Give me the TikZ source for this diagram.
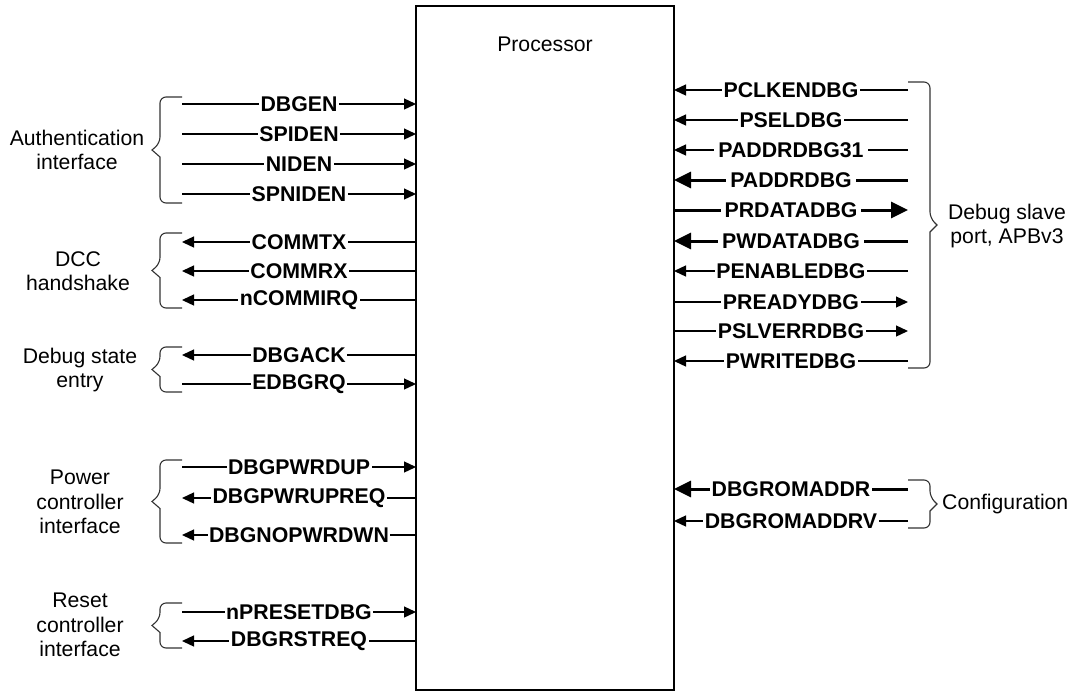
\documentclass[tikz,border=0pt]{standalone}
\usepackage{fontspec}
\setmainfont{Liberation Sans}
\usetikzlibrary{arrows.meta}
\newcommand\sigfont{\fontsize{21.3}{24.5}\selectfont\bfseries}
\newcommand\grpfont{\fontsize{21.2}{24.5}\selectfont}
\tikzset{
  sig/.style={line width=1.3pt},
  tip/.style={-{Triangle[length=12pt,width=11pt]}},
  thicksig/.style={line width=3pt,-{Triangle[length=17pt,width=16pt]}},
  lab/.style={fill=white,inner xsep=1.5pt,inner ysep=0pt,font=\sigfont},
  widelab/.style={inner xsep=4pt},
  grp/.style={align=center,font=\grpfont,inner sep=0pt},
  brk/.style={line width=1.1pt,draw=black!80,line join=miter}
}
% left side signals: outer x=182, box x=416
\newcommand\Lin[4][]{%
  \coordinate (#2o) at (182,#3); \coordinate (#2p) at (416,#3);
  \draw[sig,tip,#1] (#2o) -- node[lab] (#2t) {#4} (#2p);}
\newcommand\Lout[4][]{%
  \coordinate (#2o) at (182,#3); \coordinate (#2p) at (416,#3);
  \draw[sig,tip,#1] (#2p) -- node[lab] (#2t) {#4} (#2o);}
% right side signals: box x=674, outer x=908
\newcommand\Rin[5][]{%
  \coordinate (#2o) at (908,#3); \coordinate (#2p) at (674,#3);
  \draw[sig,tip,#1] (#2o) -- node[lab,#5] (#2t) {#4} (#2p);}
\newcommand\Rout[5][]{%
  \coordinate (#2o) at (908,#3); \coordinate (#2p) at (674,#3);
  \draw[sig,tip,#1] (#2p) -- node[lab,#5] (#2t) {#4} (#2o);}
% braces
\newcommand\leftbrk[3]{% name, top, bottom
  \draw[brk] (182,#2) [rounded corners=6pt] -- (160,#2) -- (160,{(#2+#3)/2-7})
    [sharp corners] -- (152,{(#2+#3)/2}) coordinate (#1) -- (160,{(#2+#3)/2+7})
    [rounded corners=6pt] -- (160,#3) -- (182,#3);}
\newcommand\rightbrk[3]{% name, top, bottom
  \draw[brk] (908,#2) [rounded corners=6pt] -- (930,#2) -- (930,{(#2+#3)/2-7})
    [sharp corners] -- (937,{(#2+#3)/2}) coordinate (#1) -- (930,{(#2+#3)/2+7})
    [rounded corners=6pt] -- (930,#3) -- (908,#3);}
\begin{document}
\begin{tikzpicture}[x=1pt,y=-1pt]
\useasboundingbox (0,0) rectangle (1082,694);
\node[draw,line width=1.3pt,minimum width=258pt,minimum height=684pt,inner sep=0pt] (proc) at (545,348) {};
\node[font=\grpfont] (ptitle) at (545,44) {Processor};

% left signals
\Lin{dbgen}{104}{DBGEN}
\Lin{spiden}{134}{SPIDEN}
\Lin{niden}{164}{NIDEN}
\Lin{spniden}{194}{SPNIDEN}
\Lout{commtx}{242}{COMMTX}
\Lout{commrx}{271}{COMMRX}
\Lout{ncommirq}{300}{nCOMMIRQ}
\Lout{dbgack}{355}{DBGACK}
\Lin{edbgrq}{384}{EDBGRQ}
\Lin{dbgpwrdup}{467}{DBGPWRDUP}
\Lout{dbgpwrupreq}{498}{DBGPWRUPREQ}
\Lout{dbgnopwrdwn}{535}{DBGNOPWRDWN}
\Lin{npresetdbg}{612}{nPRESETDBG}
\Lout{dbgrstreq}{641}{DBGRSTREQ}

% right signals
\Rin{pclkendbg}{90}{PCLKENDBG}{}
\Rin{pseldbg}{120}{PSELDBG}{}
\Rin{paddrdbgtt}{150}{PADDRDBG31}{widelab}
\Rin[thicksig]{paddrdbg}{180}{PADDRDBG}{widelab}
\Rout[thicksig]{prdatadbg}{210}{PRDATADBG}{widelab}
\Rin[thicksig]{pwdatadbg}{241}{PWDATADBG}{widelab}
\Rin{penabledbg}{271}{PENABLEDBG}{}
\Rout{preadydbg}{302}{PREADYDBG}{}
\Rout{pslverrdbg}{331}{PSLVERRDBG}{}
\Rin{pwritedbg}{361}{PWRITEDBG}{}
\Rin[thicksig]{dbgromaddr}{489}{DBGROMADDR}{}
\Rin{dbgromaddrv}{521}{DBGROMADDRV}{}

% braces
\leftbrk{bauth}{97}{203}
\leftbrk{bdcc}{233}{308}
\leftbrk{bdbg}{347}{392}
\leftbrk{bpwr}{460}{543}
\leftbrk{brst}{603}{648}
\rightbrk{bapb}{82}{368}
\rightbrk{bcfg}{480}{528}

% group labels
\node[grp] (gauth) at (77,150) {Authentication\\interface};
\node[grp] (gdcc) at (78,271) {DCC\\handshake};
\node[grp] (gdbg) at (80,370) {Debug state\\entry};
\node[grp] (gpwr) at (80,502) {Power\\controller\\interface};
\node[grp] (grst) at (80,625) {Reset\\controller\\interface};
\node[grp] (gapb) at (1007,226) {Debug slave\\port, APBv3};
\node[grp,anchor=west] (gcfg) at (942,504) {Configuration};
\end{tikzpicture}
\end{document}
